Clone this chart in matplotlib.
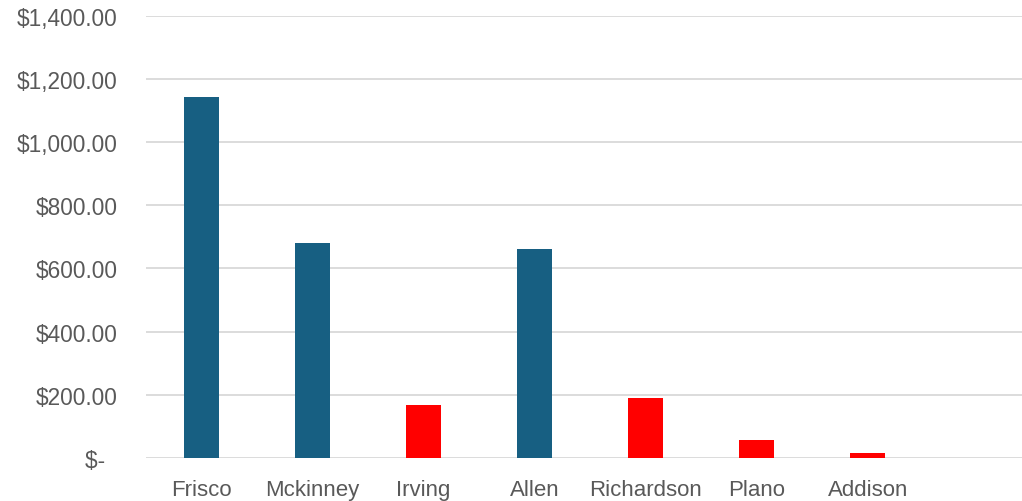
import numpy as np
import matplotlib.pyplot as plt

# data
cities = ["Frisco", "Mckinney", "Irving", "Allen", "Richardson", "Plano", "Addison", ""]
values = [1143, 682, 167, 660, 189, 56, 15, 0]
colors = ["#175F82", "#175F82", "#FF0000", "#175F82", "#FF0000", "#FF0000", "#FF0000", "#FF0000"]
yticks = [0, 200, 400, 600, 800, 1000, 1200, 1400]
ylabels = ["$-  ", "$200.00", "$400.00", "$600.00", "$800.00", "$1,000.00", "$1,200.00", "$1,400.00"]

fig = plt.figure(figsize=(10.22, 5.02), dpi=100)
# plot area runs past the right edge of the picture, as in the reference
ax = fig.add_axes([145.5 / 1022, 1 - 458.7 / 502, 889 / 1022, (458.7 - 17) / 502])

x = np.arange(len(cities))
ax.bar(x, values, width=0.315, color=colors, zorder=3)

ax.set_xlim(-0.5, len(cities) - 0.5)
ax.set_ylim(0, 1400)
ax.set_yticks(yticks)
ax.set_yticklabels(ylabels, fontsize=16.3, color="#595959", family="Liberation Sans")
ax.set_xticks(x)
ax.set_xticklabels(cities, fontsize=16, color="#595959", family="Liberation Sans")

ax.grid(axis="y", color="#D9D9D9", linewidth=1.3, zorder=0)
for s in ax.spines.values():
    s.set_visible(False)
ax.tick_params(axis="both", length=0)
ax.tick_params(axis="y", pad=20)
ax.tick_params(axis="x", pad=15)

fig.savefig("out.png", dpi=100)
